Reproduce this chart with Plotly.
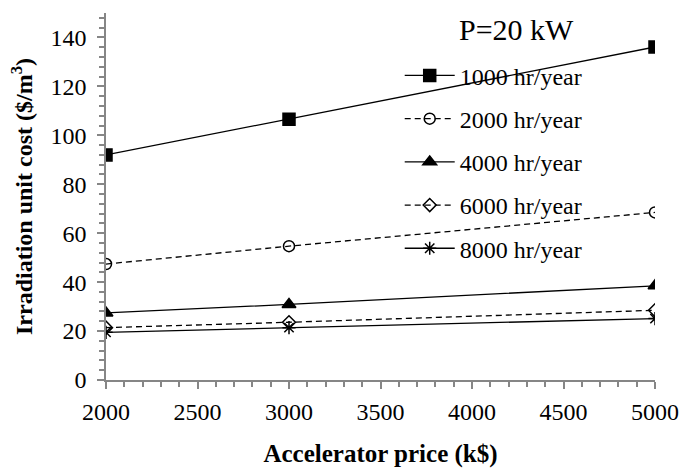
import plotly.graph_objects as go

price = [2000, 3000, 5000]
names = ["1000 hr/year", "2000 hr/year", "4000 hr/year", "6000 hr/year", "8000 hr/year"]
cost_1000 = [92, 106.6, 136.1]
cost_2000 = [47.4, 54.7, 68.5]
cost_4000 = [27.4, 30.9, 38.5]
cost_6000 = [21.4, 23.6, 28.5]
cost_8000 = [19.5, 21.4, 25.1]
series = [cost_1000, cost_2000, cost_4000, cost_6000, cost_8000]

symbols = ["square", "circle-open", "triangle-up", "diamond-open", "asterisk-open"]
sizes = [12, 11, 12, 10, 11]
dashes = ["solid", "6px,4px", "solid", "6px,4px", "solid"]

FONT = "Liberation Serif, Times New Roman, serif"

fig = go.Figure()
for i, (nm, ys) in enumerate(zip(names, series)):
    fig.add_trace(go.Scatter(
        x=price, y=ys, name=nm, mode="lines+markers",
        line=dict(color="black", width=1.3, dash=dashes[i]),
        marker=dict(symbol=symbols[i], size=sizes[i], color="black",
                    line=dict(color="black", width=1.5)),
        legendgroup=f"g{i}",
    ))

axis_common = dict(
    showline=True, linecolor="#868686", linewidth=1.5,
    ticks="outside", tickcolor="#868686", ticklen=7, tickwidth=1.5,
    showgrid=False, zeroline=False, mirror=False, automargin=False,
    tickfont=dict(family=FONT, size=24, color="black"),
)

fig.update_xaxes(
    range=[2000, 5000], dtick=500, tick0=2000,
    title=dict(text="<b>Accelerator price (k$)</b>", font=dict(family=FONT, size=25, color="black"), standoff=24),
    minor=dict(dtick=100, ticks="outside", ticklen=5, tickcolor="#868686", tickwidth=1.5),
    ticklabelstandoff=2,
    **axis_common,
)
fig.update_yaxes(
    range=[0, 150], dtick=20, tick0=0,
    title=dict(text="<b>Irradiation unit cost ($/m<sup>3</sup>)</b>", font=dict(family=FONT, size=24, color="black"), standoff=11),
    minor=dict(dtick=4, ticks="outside", ticklen=5, tickcolor="#868686", tickwidth=1.5),
    ticklabelstandoff=6,
    **axis_common,
)

fig.add_annotation(
    text="P=20 kW", xref="paper", yref="paper", x=0.64, y=1.005,
    xanchor="left", yanchor="top", showarrow=False,
    font=dict(family=FONT, size=30, color="black"),
)

fig.update_layout(
    width=680, height=468,
    margin=dict(l=106, r=25, t=13, b=88),
    paper_bgcolor="white", plot_bgcolor="white",
    showlegend=True,
    legend=dict(
        x=0.535, y=0.89, xanchor="left", yanchor="top",
        bgcolor="rgba(0,0,0,0)", borderwidth=0,
        font=dict(family=FONT, size=24, color="black"),
        traceorder="grouped", tracegroupgap=9,
        itemwidth=50,
    ),
)

fig.write_html("out.html", config={"displayModeBar": False},
               post_script="document.body.style.margin='0';")
